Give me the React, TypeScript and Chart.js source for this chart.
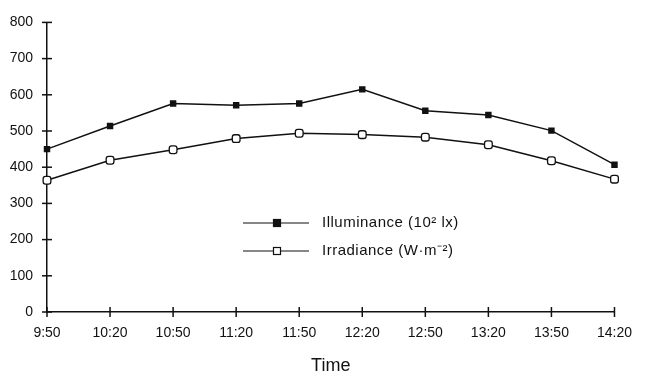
import React, { useEffect, useRef } from "react";
import { Chart, registerables } from "chart.js";

Chart.register(...registerables);

const times = ["9:50", "10:20", "10:50", "11:20", "11:50", "12:20", "12:50", "13:20", "13:50", "14:20"];
const illuminance = [450, 514, 576, 571, 576, 615, 556, 544, 501, 407];
const irradiance = [364, 419, 448, 479, 494, 490, 483, 462, 418, 367];
const yTicks = [0, 100, 200, 300, 400, 500, 600, 700, 800];
const legendLabels = ["Illuminance (10\u00B2 lx)", "Irradiance (W\u00B7m\u207B\u00B2)"];

const FONT = "'Liberation Sans', Arial, Helvetica, sans-serif";
const INK = "#111";

const crossTicks = {
  id: "crossTicks",
  afterDraw(chart: any) {
    const ctx = chart.ctx;
    const xs = chart.scales.x;
    const ys = chart.scales.y;
    const area = chart.chartArea;
    ctx.save();
    ctx.strokeStyle = INK;
    ctx.lineWidth = 1.5;
    yTicks.forEach((v) => {
      const py = ys.getPixelForValue(v);
      ctx.beginPath();
      ctx.moveTo(area.left - 5, py);
      ctx.lineTo(area.left + 5, py);
      ctx.stroke();
    });
    times.forEach((_, i) => {
      const px = xs.getPixelForValue(i);
      ctx.beginPath();
      ctx.moveTo(px, area.bottom - 5);
      ctx.lineTo(px, area.bottom + 5);
      ctx.stroke();
    });
    ctx.restore();
  },
};

const inlineLegend = {
  id: "inlineLegend",
  afterDraw(chart: any) {
    const ctx = chart.ctx;
    const rows = [
      { y: 223, fill: INK, label: legendLabels[0] },
      { y: 251, fill: "#fff", label: legendLabels[1] },
    ];
    ctx.save();
    rows.forEach((r) => {
      ctx.strokeStyle = INK;
      ctx.lineWidth = 1.2;
      ctx.beginPath();
      ctx.moveTo(243, r.y);
      ctx.lineTo(309, r.y);
      ctx.stroke();
      ctx.fillStyle = r.fill;
      ctx.fillRect(273.5, r.y - 3.5, 7, 7);
      ctx.strokeRect(273.5, r.y - 3.5, 7, 7);
      ctx.fillStyle = INK;
      ctx.font = `15px ${FONT}`;
      (ctx as any).letterSpacing = "0.5px";
      ctx.textBaseline = "middle";
      ctx.textAlign = "left";
      ctx.fillText(r.label, 322, r.y);
      (ctx as any).letterSpacing = "0px";
    });
    ctx.restore();
  },
};

export default function App() {
  const ref = useRef<HTMLCanvasElement>(null);
  useEffect(() => {
    if (!ref.current) return;
    const chart = new Chart(ref.current, {
      type: "line",
      data: {
        labels: times,
        datasets: [
          {
            label: legendLabels[0],
            data: illuminance,
            borderColor: INK,
            borderWidth: 1.5,
            backgroundColor: INK,
            pointStyle: "rect",
            pointRadius: 3.5,
            pointBackgroundColor: INK,
            pointBorderColor: INK,
            tension: 0,
          },
          {
            label: legendLabels[1],
            data: irradiance,
            borderColor: INK,
            borderWidth: 1.5,
            backgroundColor: "#fff",
            pointStyle: "rectRounded",
            pointRadius: 4.5,
            pointBorderWidth: 1.3,
            pointBackgroundColor: "#fff",
            pointBorderColor: INK,
            tension: 0,
          },
        ],
      },
      options: {
        animation: false,
        responsive: true,
        maintainAspectRatio: false,
        layout: { padding: { top: 15, right: 17, left: 0, bottom: 0 } },
        plugins: { legend: { display: false }, tooltip: { enabled: false } },
        scales: {
          x: {
            type: "category",
            offset: false,
            grid: { display: false, drawTicks: false },
            border: { display: true, color: INK, width: 1.5 },
            ticks: {
              color: INK,
              font: { family: FONT, size: 14 },
              padding: 13,
              maxRotation: 0,
              autoSkip: false,
            },
            title: {
              display: true,
              text: "Time",
              color: INK,
              font: { family: FONT, size: 18, lineHeight: 1 },
              padding: { top: 0, bottom: 0 },
            },
            afterFit: (s: any) => {
              s.height = 63;
            },
          },
          y: {
            min: 0,
            max: 800,
            grid: { display: false, drawTicks: false },
            border: { display: true, color: INK, width: 1.5 },
            ticks: {
              stepSize: 100,
              color: INK,
              font: { family: FONT, size: 14 },
              padding: 14,
            },
            afterFit: (s: any) => {
              s.width = 47;
            },
          },
        },
      },
      plugins: [crossTicks, inlineLegend],
    });
    return () => chart.destroy();
  }, []);
  return (
    <div style={{ position: "absolute", left: 0, top: 0, width: 645, height: 375, background: "#fff" }}>
      <canvas ref={ref} />
    </div>
  );
}
